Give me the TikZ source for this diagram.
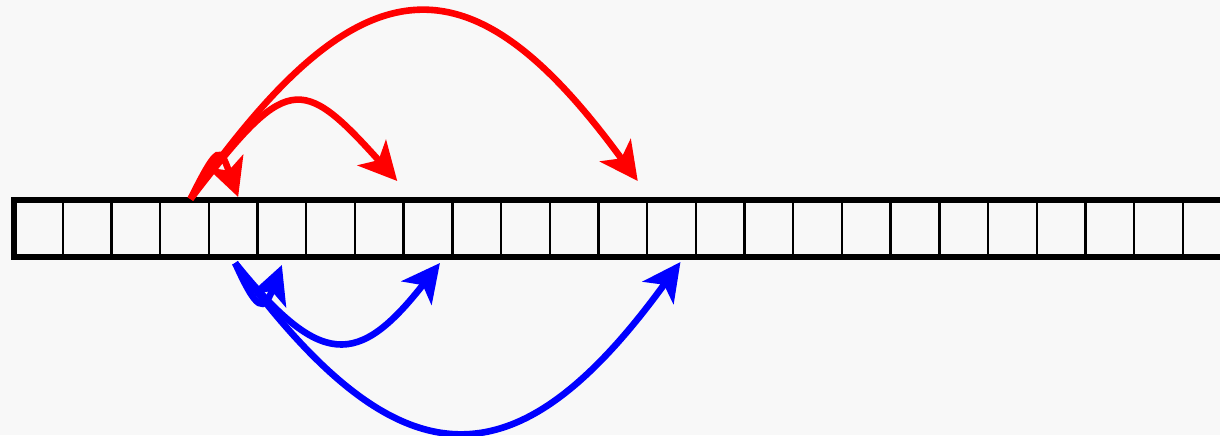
\documentclass[tikz,border=0pt]{standalone}
\usetikzlibrary{positioning,arrows.meta,calc}
\definecolor{bgpaper}{RGB}{248,248,248}

\begin{document}
\begin{tikzpicture}[
  x=0.5pt, y=-0.5pt,
  cell/.style={draw, line width=1.2pt, minimum width=24.35pt, minimum height=28.5pt, inner sep=0pt, outer sep=0pt},
  hop/.style={line width=3.3pt, -{Stealth[length=19pt, width=19pt, inset=5pt]}},
  fwd/.style={hop, red},
  bwd/.style={hop, blue}
]
  \useasboundingbox (0,0) rectangle (1220,435);
  \fill[bgpaper] (0,0) rectangle (1220,435);
  \clip (0,0) rectangle (1220,435);

  % the strip of cells
  \node[cell] (c0) at (38.35,228.5) {};
  \foreach \i [count=\j from 1] in {0,...,23}
    \node[cell, right=0pt of c\i] (c\j) {};
  \draw[line width=2.8pt] (c0.north west) rectangle (c24.south east);

  % where the jumps start and land
  \coordinate (rs) at ($(c3.north)+(6,-1)$);
  \coordinate (r1) at ($(c4.north)+(5,-3)$);
  \coordinate (r2) at ($(c7.north)+(18,-19)$);
  \coordinate (r3) at ($(c12.north)+(15,-19)$);
  \coordinate (bs) at ($(c4.south)+(2,6)$);
  \coordinate (b1) at ($(c5.south)+(0,8)$);
  \coordinate (b2) at ($(c8.south)+(12,6)$);
  \coordinate (b3) at ($(c13.south)+(9,5)$);

  \draw[fwd] (rs) .. controls +(171,-244) and +(-167,-229) .. (r3);
  \draw[fwd] (rs) .. controls +(96,-125) and +(-97,-108) .. (r2);
  \draw[fwd] (rs) .. controls +(28,-56) and +(-18,-50) .. (r1);
  \draw[bwd] (bs) .. controls +(165,225) and +(-164,226) .. (b3);
  \draw[bwd] (bs) .. controls +(85,105) and +(-82,105) .. (b2);
  \draw[bwd] (bs) .. controls +(22,49) and +(-18,47) .. (b1);
\end{tikzpicture}
\end{document}
